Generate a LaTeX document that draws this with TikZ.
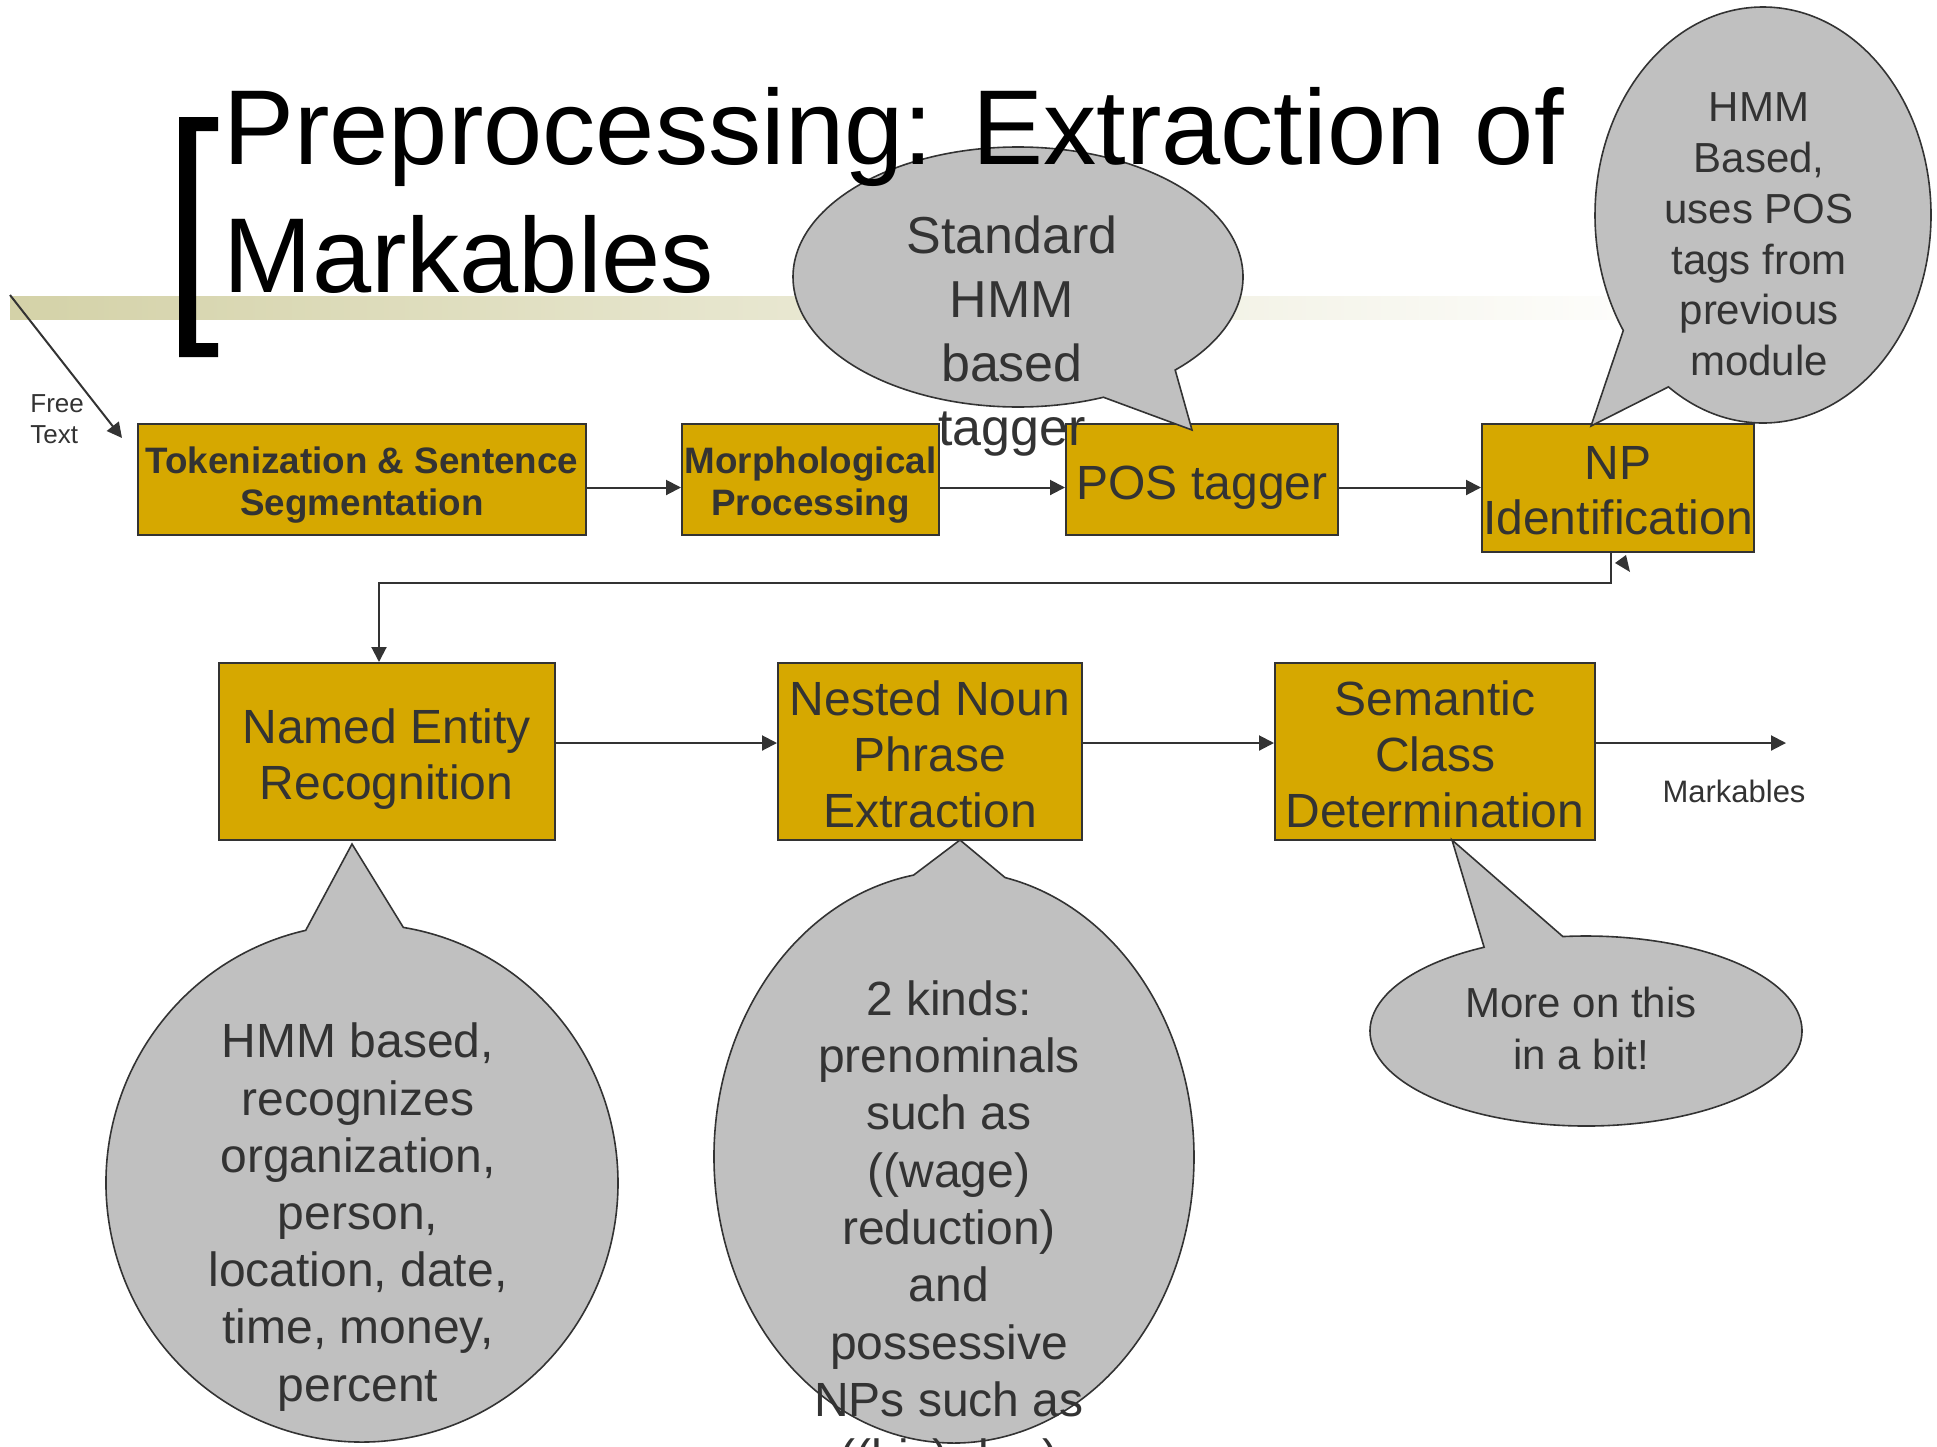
\documentclass[tikz,border=0pt]{standalone}
\usepackage{fontspec}
\setmainfont{Liberation Sans}
\usetikzlibrary{arrows.meta,shapes.callouts}
\definecolor{boxgold}{RGB}{214,168,0}
\definecolor{ink}{RGB}{51,51,51}
\definecolor{bubblegray}{RGB}{192,192,192}
\definecolor{barolive}{RGB}{212,210,168}
\newcommand{\tstrut}{\rule{0pt}{1.04em}}
\newcommand{\bstrut}{\rule[-0.21em]{0pt}{0.21em}}

\begin{document}
\begin{tikzpicture}[x=0.5pt, y=-0.5pt,
    stepbox/.style={draw=ink, line width=1pt, fill=boxgold, text=ink, inner sep=0pt, align=center, font=\fontsize{24}{28}\selectfont},
    boldbox/.style={stepbox, font=\fontsize{18.4}{21}\selectfont\bfseries},
    bubble/.style={ellipse callout, draw=ink, line width=0.8pt, fill=bubblegray, inner sep=0pt, callout pointer arc=22},
    note/.style={text=ink, align=center, inner sep=0pt},
    flow/.style={draw=ink, line width=1pt, -{Triangle[length=7.5pt, width=7.5pt]}}]
            \useasboundingbox (0, 0) rectangle (1937, 1446);
            \shade[left color=barolive, right color=white] (10, 296) rectangle (1700, 319);
            \fill (179, 117) -- (218, 117) -- (218, 131) -- (196, 131) -- (196, 343) -- (218, 343) -- (218, 357) -- (179, 357) -- cycle;
            \coordinate (src) at (10, 295);
            \coordinate (srctip) at (122, 438);
            \draw (30, 419) node[note, anchor=west, align=left, font=\fontsize{13}{15.5}\selectfont](free){Free\\Text};
            \draw[flow] (src) -- (srctip);
            \draw (362, 479.5) node[boldbox, minimum width=224pt, minimum height=55.5pt](tok){\tstrut Tokenization \& Sentence\\Segmentation\bstrut};
            \draw (810.5, 479.5) node[boldbox, minimum width=128.5pt, minimum height=55.5pt](morph){\tstrut Morphological\\Processing\bstrut};
            \draw (1202, 479.5) node[stepbox, minimum width=136pt, minimum height=55.5pt](pos){\tstrut POS tagger\bstrut};
            \draw (1618, 487.5) node[stepbox, minimum width=136pt, minimum height=64pt, font=\fontsize{24}{27.5}\selectfont](np){\tstrut NP\\Identification\bstrut};
            \draw (386.5, 751.5) node[stepbox, minimum width=168pt, minimum height=88.5pt](ner){\tstrut Named Entity\\Recognition\bstrut};
            \draw (930, 751.5) node[stepbox, minimum width=152pt, minimum height=88.5pt](nest){\tstrut Nested Noun\\Phrase\\Extraction\bstrut};
            \draw (1435, 751.5) node[stepbox, minimum width=160pt, minimum height=88.5pt](sem){\tstrut Semantic\\Class\\Determination\bstrut};
            \coordinate (out) at (1786, 743);
            \draw (1734, 791) node[note, font=\fontsize{15.5}{18}\selectfont](mark){Markables};
            \draw[flow] (tok.east |- np) -- (morph.west |- np);
            \draw[flow] (morph.east |- np) -- (pos.west |- np);
            \draw[flow] (pos.east |- np) -- (np);
            \draw[flow] ([xshift=-3.5pt]np.south) -- ++(0, 30) -| ([xshift=-3.75pt]ner.north);
            \fill[ink] (1615, 563) -- (1626, 555) -- (1630, 572) -- cycle;
            \draw[flow] ([yshift=4.25pt]ner.east) -- ([yshift=4.25pt]nest.west);
            \draw[flow] ([yshift=4.25pt]nest.east) -- ([yshift=4.25pt]sem.west);
            \draw[flow] ([yshift=4.25pt]sem.east) -- (out);
            \draw (1018, 277) node[bubble, minimum width=225pt, minimum height=130pt, callout absolute pointer={(1192, 430)}](stdcall){};
            \draw (1763, 215) node[bubble, minimum width=168pt, minimum height=208pt, callout absolute pointer={(1591, 426)}](npcall){};
            \draw (362, 1183) node[bubble, minimum width=256pt, minimum height=259pt, callout absolute pointer={(352, 844)}](nercall){};
            \draw (954, 1157) node[bubble, minimum width=240pt, minimum height=286pt, callout absolute pointer={(960, 840)}](nestcall){};
            \draw (1586, 1031) node[bubble, minimum width=216pt, minimum height=95pt, callout absolute pointer={(1452, 840)}](semcall){};
            \draw (1012, 336) node[note, font=\fontsize{26}{32}\selectfont](stdtext){Standard\\HMM\\based\\tagger};
            \draw (1759, 234.5) node[note, font=\fontsize{21}{25.4}\selectfont](nptext){HMM\\Based,\\uses POS\\tags from\\previous\\module};
            \draw (358, 1217) node[note, font=\fontsize{24}{28.6}\selectfont](nertext){HMM based,\\recognizes\\organization,\\person,\\location, date,\\time, money,\\percent};
            \draw (949, 1232) node[note, font=\fontsize{24}{28.65}\selectfont](nesttext){2 kinds:\\prenominals\\such as\\((wage)\\reduction)\\and\\possessive\\NPs such as\\((his) dog)};
            \draw (1581, 1028) node[note, font=\fontsize{21}{26}\selectfont](semtext){More on this\\in a bit!};
            \draw (223, 86.5) node[anchor=north west, inner sep=0pt, align=left, font=\fontsize{53.2}{64}\selectfont](title){Preprocessing: Extraction of\\Markables};
        \end{tikzpicture}
\end{document}
